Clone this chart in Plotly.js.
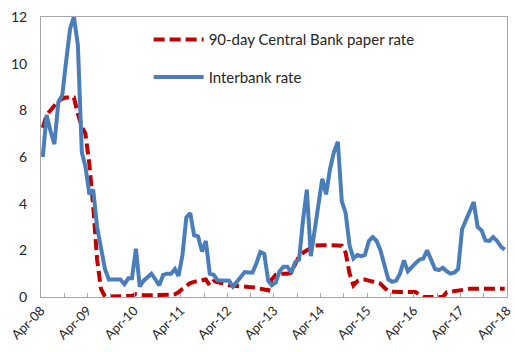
<!DOCTYPE html>
<html>
<head>
<meta charset="utf-8">
<script src="https://cdn.plot.ly/plotly-3.0.1.min.js"></script>
<style>html,body{margin:0;padding:0;background:#fff;}#chart{width:515px;height:352px;}</style>
</head>
<body>
<div id="chart"></div>
<script>
// Monthly observations, Apr-2008 .. Mar-2018 (120 months)
const startYear = 2008, startMonth = 4, nMonths = 120;

const interbankRate = [
  6.0, 7.8, 7.1, 6.55, 8.35, 8.65, 10.1, 11.5, 12.0, 10.8, 6.2, 5.6,
  4.4, 4.6, 3.0, 2.0, 1.2, 0.75, 0.75, 0.75, 0.75, 0.55, 0.8, 0.8,
  2.07, 0.45, 0.7, 0.85, 1.0, 0.75, 0.5, 0.95, 1.0, 1.0, 1.2, 0.9,
  1.8, 3.4, 3.6, 2.65, 2.6, 1.95, 2.4, 1.0, 0.95, 0.72, 0.72, 0.72,
  0.7, 0.45, 0.65, 0.9, 1.07, 1.05, 1.05, 1.45, 1.93, 1.85, 0.7, 0.5,
  0.62, 1.1, 1.3, 1.3, 1.05, 1.5, 1.6, 3.3, 4.6, 1.75, 3.0, 4.0,
  5.07, 4.4, 5.5, 6.2, 6.65, 4.1, 3.6, 2.2, 1.65, 1.8, 1.75, 1.8,
  2.4, 2.57, 2.4, 2.0, 1.4, 0.75, 0.65, 0.7, 1.0, 1.57, 1.1, 1.3,
  1.45, 1.6, 1.65, 2.0, 1.55, 1.2, 1.15, 1.25, 1.1, 1.0, 1.05, 1.2,
  2.9, 3.3, 3.7, 4.07, 3.0, 2.85, 2.42, 2.4, 2.57, 2.4, 2.15, 2.03
];

const cbPaperRate = [
  7.25, 7.8, 8.0, 8.2, 8.4, 8.5, 8.55, 8.55, 8.55, 7.85, 7.3, 7.0,
  5.7, 3.9, 1.6, 0.35, 0.02, 0.02, 0.02, 0.02, 0.02, 0.02, 0.02, 0.05,
  0.12, 0.12, 0.08, 0.07, 0.07, 0.07, 0.07, 0.07, 0.07, 0.1, 0.12, 0.2,
  0.35, 0.5, 0.6, 0.65, 0.7, 0.72, 0.75, 0.5, 0.68, 0.65, 0.6, 0.55,
  0.5, 0.48, 0.45, 0.45, 0.45, 0.43, 0.42, 0.4, 0.38, 0.32, 0.28, 0.75,
  0.95, 1.0, 1.0, 1.0, 1.05, 1.4, 1.75, 1.9, 1.98, 2.1, 2.2, 2.22,
  2.22, 2.22, 2.22, 2.22, 2.22, 2.2, 1.9, 1.0, 0.5, 0.68, 0.75, 0.75,
  0.7, 0.65, 0.6, 0.57, 0.4, 0.25, 0.22, 0.21, 0.21, 0.21, 0.21, 0.21,
  0.21, 0.08, 0.0, 0.0, 0.0, 0.0, 0.0, 0.0, 0.2, 0.23, 0.26, 0.29,
  0.33, 0.35, 0.35, 0.35, 0.35, 0.35, 0.35, 0.35, 0.35, 0.35, 0.35, 0.35
];

const seriesNames = ["90-day Central Bank paper rate", "Interbank rate"];
const yTicks = [0, 2, 4, 6, 8, 10, 12];
const xTickDates = ["2008-04-01","2009-04-01","2010-04-01","2011-04-01","2012-04-01","2013-04-01",
                    "2014-04-01","2015-04-01","2016-04-01","2017-04-01","2018-04-01"];
const xTickLabels = ["Apr-08","Apr-09","Apr-10","Apr-11","Apr-12","Apr-13",
                     "Apr-14","Apr-15","Apr-16","Apr-17","Apr-18"];

// month dates (mid-month)
const months = [];
for (let i = 0; i < nMonths; i++) {
  const m0 = startMonth - 1 + i;
  const y = startYear + Math.floor(m0 / 12);
  const m = (m0 % 12) + 1;
  months.push(y + "-" + String(m).padStart(2, "0") + "-15");
}

const FONT = "Lato, 'Open Sans', sans-serif";

const traces = [
  {
    x: months, y: cbPaperRate, name: seriesNames[0], type: "scatter", mode: "lines",
    legendgroup: "a",
    line: {color: "#C00000", width: 4, dash: "11px,5px"}
  },
  {
    x: months, y: interbankRate, name: seriesNames[1], type: "scatter", mode: "lines",
    legendgroup: "b",
    line: {color: "#4A7EBB", width: 4}
  }
];

const layout = {
  width: 515, height: 352,
  margin: {l: 41, r: 8, t: 17, b: 55},
  paper_bgcolor: "#ffffff", plot_bgcolor: "#ffffff",
  font: {family: FONT, color: "#262626"},
  showlegend: true,
  legend: {
    x: 0.231, y: 0.978, xanchor: "left", yanchor: "top",
    bgcolor: "rgba(0,0,0,0)", borderwidth: 0,
    font: {family: FONT, size: 15, color: "#262626"},
    traceorder: "grouped", tracegroupgap: 15, itemwidth: 50
  },
  xaxis: {
    type: "date",
    range: ["2008-04-01", "2018-04-02"],
    tickmode: "array", tickvals: xTickDates, ticktext: xTickLabels, tickangle: -45,
    ticklabeloverflow: "allow",
    ticks: "inside", ticklen: 4, tickcolor: "#A6A6A6", tickwidth: 1,
    minor: {dtick: "M6", tick0: "2008-04-01", ticks: "inside", ticklen: 4, tickcolor: "#A6A6A6", tickwidth: 1},
    showgrid: false, zeroline: false,
    showline: true, linecolor: "#A6A6A6", linewidth: 1, mirror: true,
    tickfont: {family: FONT, size: 13, color: "#262626"}
  },
  yaxis: {
    range: [0, 12], tickvals: yTicks,
    ticks: "", ticklabelstandoff: 10,
    showgrid: false, zeroline: false,
    showline: true, linecolor: "#A6A6A6", linewidth: 1, mirror: true,
    tickfont: {family: FONT, size: 14, color: "#262626"}
  }
};

Plotly.newPlot("chart", traces, layout, {staticPlot: true, displayModeBar: false});
</script>
</body>
</html>
